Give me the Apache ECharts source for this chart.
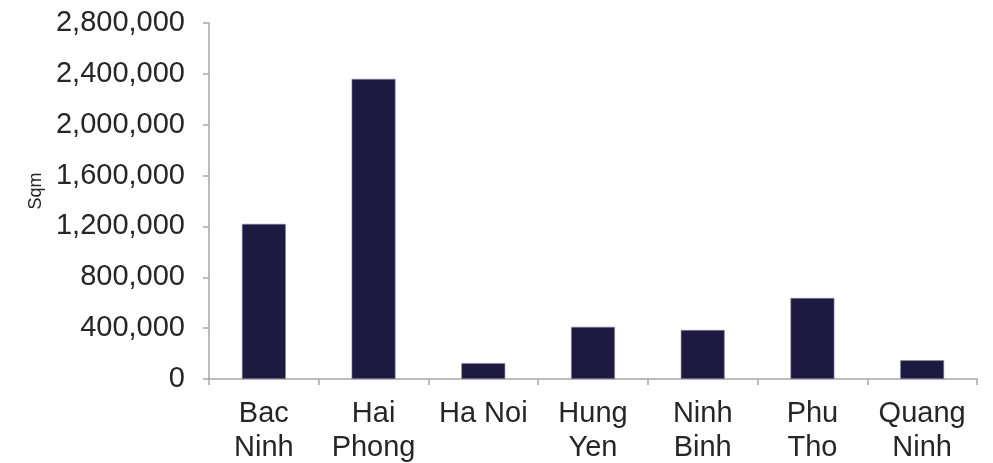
<!DOCTYPE html>
<html>
<head>
<meta charset="utf-8">
<script src="https://cdn.jsdelivr.net/npm/echarts@6/dist/echarts.min.js"></script>
<style>
  html, body { margin: 0; padding: 0; background: #fff; }
  #main { width: 993px; height: 463px; }
</style>
</head>
<body>
<div id="main"></div>
<script>
// provinces and their tick labels (two lines where the original wraps)
const provinces = ['Bac Ninh', 'Hai Phong', 'Ha Noi', 'Hung Yen', 'Ninh Binh', 'Phu Tho', 'Quang Ninh']
const tickLabels = ['Bac\nNinh', 'Hai\nPhong', 'Ha Noi', 'Hung\nYen', 'Ninh\nBinh', 'Phu\nTho', 'Quang\nNinh']
// area in sqm
const areaSqm = [1220000, 2360000, 125000, 410000, 385000, 637000, 147000]

const axisGrey = '#a6a6a6'
const textCol = '#262626'
const font = 'Liberation Sans, Arial, sans-serif'

var myChart = echarts.init(document.getElementById('main'))

var option = {
    animation: false,
    grid: { left: 209, right: 16, top: 23, bottom: 84, outerBoundsMode: 'none', containLabel: false },
    xAxis: {
        type: 'category',
        data: provinces,
        axisLine: { lineStyle: { color: axisGrey, width: 1.5 } },
        axisTick: { show: true, length: 6, lineStyle: { color: axisGrey, width: 1.5 } },
        axisLabel: {
            interval: 0,
            margin: 18,
            color: textCol,
            fontFamily: font,
            fontSize: 29,
            lineHeight: 34,
            formatter: (v, i) => tickLabels[i]
        }
    },
    yAxis: {
        type: 'value',
        min: 0,
        max: 2800000,
        interval: 400000,
        name: 'Sqm',
        nameLocation: 'middle',
        nameRotate: 90,
        nameGap: 163,
        nameTextStyle: { color: textCol, fontSize: 18, fontFamily: font, padding: [0, 0, 0, 20] },
        splitLine: { show: false },
        axisLine: { show: true, lineStyle: { color: axisGrey, width: 1.5 } },
        axisTick: { show: true, length: 6, lineStyle: { color: axisGrey, width: 1.5 } },
        axisLabel: {
            margin: 24,
            color: textCol,
            fontFamily: font,
            fontSize: 29,
            formatter: v => v.toLocaleString('en-US')
        }
    },
    series: [
        {
            type: 'bar',
            data: areaSqm,
            barWidth: '40%',
            itemStyle: { color: '#1e1940', borderColor: '#8a87a0', borderWidth: 0.6 }
        }
    ]
}

myChart.setOption(option)
</script>
</body>
</html>
